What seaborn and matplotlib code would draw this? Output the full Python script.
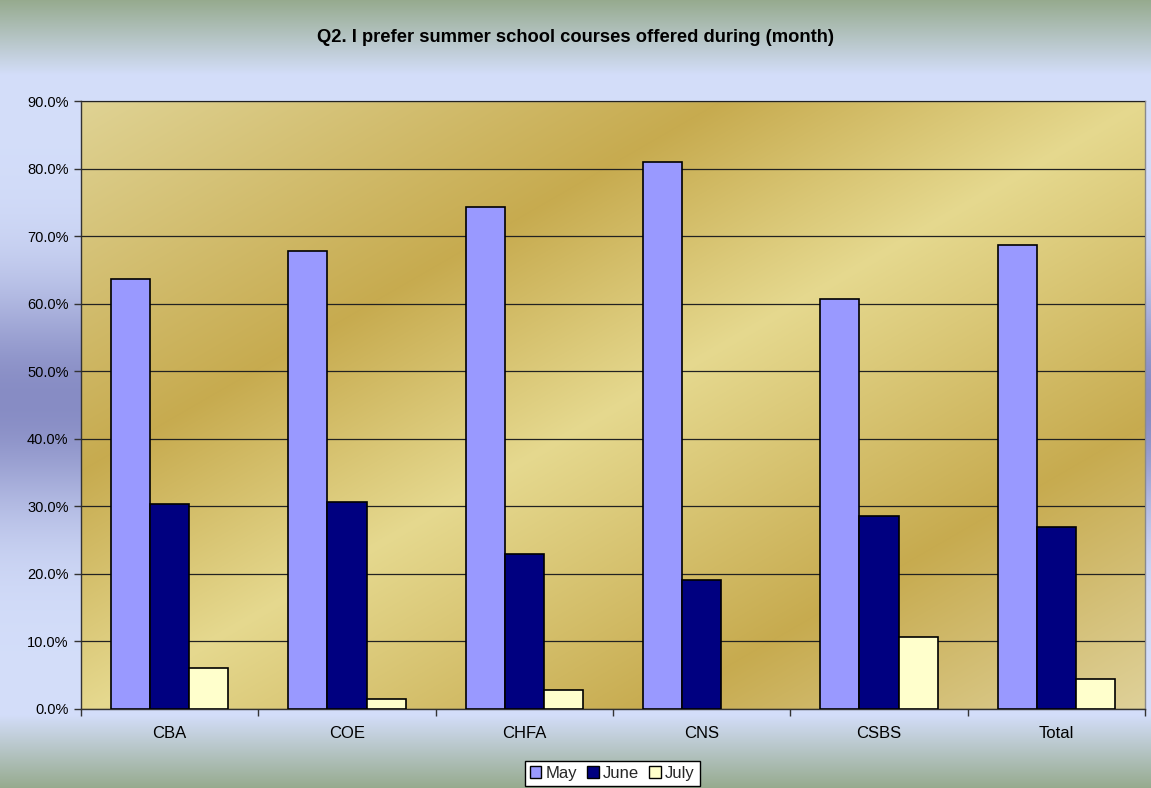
import matplotlib
matplotlib.use("Agg")
import matplotlib.pyplot as plt
import numpy as np
import pandas as pd
import seaborn as sns
from matplotlib.patches import Patch
from matplotlib.ticker import PercentFormatter, FixedLocator

# Datos (fracción)
colleges = ["CBA", "COE", "CHFA", "CNS", "CSBS", "Total"]
months = ["May", "June", "July"]
may = [0.636, 0.678, 0.743, 0.809, 0.607, 0.687]
june = [0.304, 0.307, 0.229, 0.191, 0.286, 0.269]
july = [0.060, 0.015, 0.028, 0.0, 0.107, 0.044]
month_colors = ["#9999FF", "#000080", "#FFFFCC"]
title = "Q2. I prefer summer school courses offered during (month)"

W, H = 1151, 788

df = pd.DataFrame({
    "college": colleges * 3,
    "month": [m for m in months for _ in colleges],
    "value": may + june + july,
})

sns.set_theme(style="white")
plt.rcParams["font.family"] = ["Liberation Sans", "DejaVu Sans"]

fig = plt.figure(figsize=(W / 100, H / 100), dpi=100)

# Fondo de la figura: degradado azul claro con bordes verdosos y banda morada
yy = np.linspace(0, 1, H)[:, None] * H
light = np.array([0.83, 0.87, 0.98])
green = np.array([0.59, 0.67, 0.56])
purple = np.array([0.53, 0.55, 0.77])
w_top = np.clip(1 - yy / 75, 0, 1)
w_bot = np.clip((yy - 715) / 73, 0, 1)
w_pur = np.exp(-((yy - 400) / 115) ** 2)
col = light[None, None, :] * np.ones((H, 1, 3))
col = col * (1 - w_pur[..., None]) + purple * w_pur[..., None]
col = col * (1 - w_top[..., None]) + green * w_top[..., None]
col = col * (1 - w_bot[..., None]) + green * w_bot[..., None]
bg = fig.add_axes([0, 0, 1, 1], zorder=-10)
bg.imshow(np.repeat(col, 4, axis=1), aspect="auto", extent=[0, 1, 0, 1])
bg.axis("off")

x0, x1, y0, y1 = 81, 1145, 101, 709
ax = fig.add_axes([x0 / W, (H - y1) / H, (x1 - x0) / W, (y1 - y0) / H])

sns.barplot(data=df, x="college", y="value", hue="month", palette=month_colors,
            saturation=1, width=0.66, gap=0, edgecolor="black", linewidth=1.2,
            ax=ax, errorbar=None, zorder=3)

# las barras de altura cero no se dibujan en el original
for bar in ax.patches:
    if bar.get_height() == 0:
        bar.set_visible(False)

# Fondo dorado en diagonal del área de trazado
px = np.arange(x0, x1)[None, :]
py = np.arange(y0, y1)[:, None]
s = px * 0.5 + py * 0.866
gl = np.array([0.90, 0.85, 0.56])
gd = np.array([0.78, 0.67, 0.31])
stops = [80, 448, 660, 940, 1200]
cols = [np.array([0.89, 0.85, 0.62]), gd, gl, gd, np.array([0.88, 0.83, 0.62])]
img = np.zeros(s.shape + (3,))
for c in range(3):
    img[..., c] = np.interp(s, stops, [cc[c] for cc in cols])
ax.imshow(img, extent=[-0.5, 5.5, 0, 0.9], aspect="auto", zorder=0)

ax.set_xlim(-0.5, 5.5)
ax.set_ylim(0, 0.9)
ax.set_yticks(np.arange(0, 0.91, 0.1))
ax.yaxis.set_major_formatter(PercentFormatter(xmax=1, decimals=1))
ax.grid(axis="y", color="#222222", linewidth=0.9, zorder=1)
ax.set_axisbelow(False)
for ln in ax.get_ygridlines():
    ln.set_zorder(1)

ax.set_xlabel("")
ax.set_ylabel("")
ax.tick_params(axis="y", left=True, length=5, width=1, color="#333333",
               labelsize=10.5, pad=4, labelcolor="black")
ax.tick_params(axis="x", which="major", length=0, labelsize=12, pad=12,
               labelcolor="black")
ax.xaxis.set_minor_locator(FixedLocator(np.arange(-0.5, 5.6, 1)))
ax.tick_params(axis="x", which="minor", bottom=True, length=5, width=1,
               color="#333333")

for side in ["top", "right"]:
    ax.spines[side].set_color("#8A8A8A")
    ax.spines[side].set_linewidth(1)
for side in ["left", "bottom"]:
    ax.spines[side].set_color("#333333")
    ax.spines[side].set_linewidth(1)

fig.text(0.5, (H - 37) / H, title, ha="center", va="center",
         fontsize=13.2, fontweight="bold", color="black")

ax.get_legend().remove()
handles = [Patch(facecolor=c, edgecolor="black", linewidth=1) for c in month_colors]
leg = ax.legend(handles, months, loc="center", ncol=3,
                bbox_to_anchor=(612 / W, (H - 773.5) / H),
                bbox_transform=fig.transFigure, frameon=True, fancybox=False,
                edgecolor="black", framealpha=1, facecolor="white",
                fontsize=12, handlelength=0.7, handleheight=0.7,
                handletextpad=0.25, columnspacing=0.6, borderpad=0.3,
                borderaxespad=0)
leg.get_frame().set_linewidth(1)

fig.savefig("out.png", dpi=100)
